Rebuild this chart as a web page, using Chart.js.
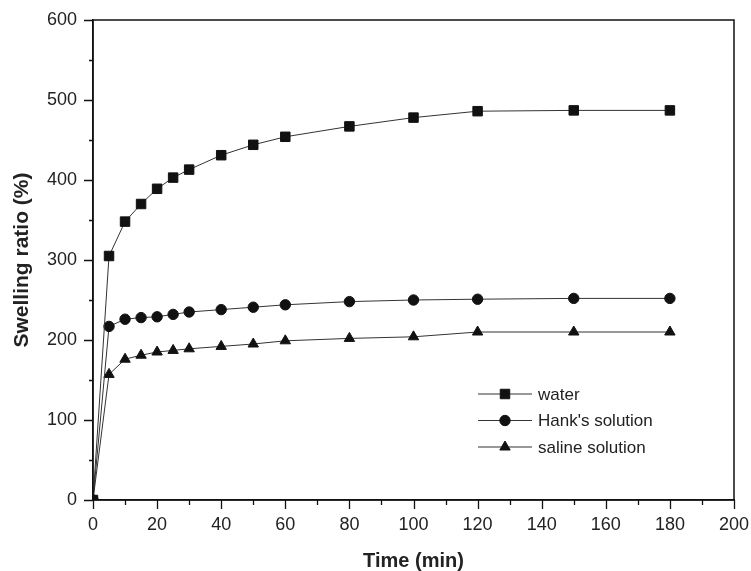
<!DOCTYPE html>
<html>
<head>
<meta charset="utf-8">
<script src="https://cdn.jsdelivr.net/npm/chart.js@4.4.1/dist/chart.umd.min.js"></script>
<style>
  html, body { margin: 0; padding: 0; background: #fff; }
</style>
</head>
<body>
<canvas id="chart" width="751" height="571"></canvas>
<script>
// swelling ratio (%) vs time (min)
const times = [0, 5, 10, 15, 20, 25, 30, 40, 50, 60, 80, 100, 120, 150, 180];
const water = [0, 305, 348, 370, 389, 403, 413, 431, 444, 454, 467, 478, 486, 487, 487];
const hanks = [0, 217, 226, 228, 229, 232, 235, 238, 241, 244, 248, 250, 251, 252, 252];
const saline = [0, 157, 176, 181, 185, 187, 189, 192, 195, 199, 202, 204, 210, 210, 210];
const seriesNames = ["water", "Hank's solution", "saline solution"];
const xTicks = [0, 20, 40, 60, 80, 100, 120, 140, 160, 180, 200];
const yTicks = [0, 100, 200, 300, 400, 500, 600];

const FONT = "'Liberation Sans', Arial, sans-serif";
const ink = "#111";

function pts(vals) {
  return times.map((t, i) => ({ x: t, y: vals[i] }));
}

function makeSet(label, vals, style, radius) {
  return {
    label,
    data: pts(vals),
    showLine: true,
    borderColor: "#333",
    borderWidth: 1,
    pointStyle: style,
    pointRadius: radius,
    pointBackgroundColor: ink,
    pointBorderColor: ink,
    pointBorderWidth: 1,
    tension: 0
  };
}

// box round the plot, minor/major ticks, and the legend inside the plot
const framePlugin = {
  id: "frame",
  afterDraw(chart) {
    const c = chart.ctx;
    const a = chart.chartArea;
    const xs = chart.scales.x;
    const ys = chart.scales.y;
    c.save();
    c.strokeStyle = ink;
    c.lineWidth = 1.5;
    c.strokeRect(a.left, a.top, a.right - a.left, a.bottom - a.top);

    c.beginPath();
    for (let v = 0; v <= 200; v += 10) {
      const px = Math.round(xs.getPixelForValue(v)) + 0.5;
      c.moveTo(px, a.bottom);
      c.lineTo(px, a.bottom + (v % 20 === 0 ? 9 : 5));
    }
    for (let v = 0; v <= 600; v += 50) {
      const py = Math.round(ys.getPixelForValue(v)) + 0.5;
      c.moveTo(a.left, py);
      c.lineTo(a.left - (v % 100 === 0 ? 9 : 4), py);
    }
    c.lineWidth = 1.3;
    c.stroke();

    // legend
    const lx = a.left + 385;
    const ly = a.top + 374;
    c.font = "17px " + FONT;
    c.textBaseline = "middle";
    c.textAlign = "left";
    chart.data.datasets.forEach((ds, i) => {
      const y = ly + i * 26.5;
      c.strokeStyle = "#333";
      c.lineWidth = 1;
      c.beginPath();
      c.moveTo(lx, y);
      c.lineTo(lx + 54, y);
      c.stroke();
      c.fillStyle = ink;
      c.strokeStyle = ink;
      Chart.helpers.drawPoint(c, {
        pointStyle: ds.pointStyle,
        radius: ds.pointRadius,
        rotation: 0,
        borderWidth: 1
      }, lx + 27, y);
      c.fillStyle = "#222";
      c.fillText(ds.label, lx + 60, y + 1);
    });
    c.restore();
  }
};

new Chart(document.getElementById("chart"), {
  type: "scatter",
  data: {
    datasets: [
      makeSet(seriesNames[0], water, "rect", 6.7),
      makeSet(seriesNames[1], hanks, "circle", 5.2),
      makeSet(seriesNames[2], saline, "triangle", 6)
    ]
  },
  options: {
    responsive: false,
    animation: false,
    devicePixelRatio: 1,
    layout: { padding: { top: 20, right: 17, left: 0, bottom: 0 } },
    plugins: {
      legend: { display: false },
      tooltip: { enabled: false }
    },
    scales: {
      x: {
        type: "linear",
        min: 0,
        max: 200,
        afterFit(s) {
          s.height = 71;
          s.paddingLeft = 0;
          s.paddingRight = 0;
        },
        afterBuildTicks(s) { s.ticks = xTicks.map(v => ({ value: v })); },
        grid: { display: true, drawOnChartArea: false, drawTicks: false },
        border: { display: true, color: ink, width: 1.5 },
        ticks: {
          padding: 14,
          color: "#222",
          font: { family: FONT, size: 18 }
        },
        title: {
          display: true,
          text: "Time (min)",
          color: "#222",
          padding: { top: 0, bottom: 0 },
          font: { family: FONT, size: 20, weight: "bold", lineHeight: 1 }
        }
      },
      y: {
        type: "linear",
        min: 0,
        max: 600,
        afterFit(s) {
          s.width = 93;
          s.paddingTop = 0;
          s.paddingBottom = 0;
        },
        afterBuildTicks(s) { s.ticks = yTicks.map(v => ({ value: v })); },
        grid: { display: true, drawOnChartArea: false, drawTicks: false },
        border: { display: true, color: ink, width: 1.5 },
        ticks: {
          padding: 16,
          color: "#222",
          font: { family: FONT, size: 18 }
        },
        title: {
          display: true,
          text: "Swelling ratio (%)",
          color: "#222",
          padding: { top: 12, bottom: 0 },
          font: { family: FONT, size: 21, weight: "bold", lineHeight: 1 }
        }
      }
    }
  },
  plugins: [framePlugin]
});
</script>
</body>
</html>
